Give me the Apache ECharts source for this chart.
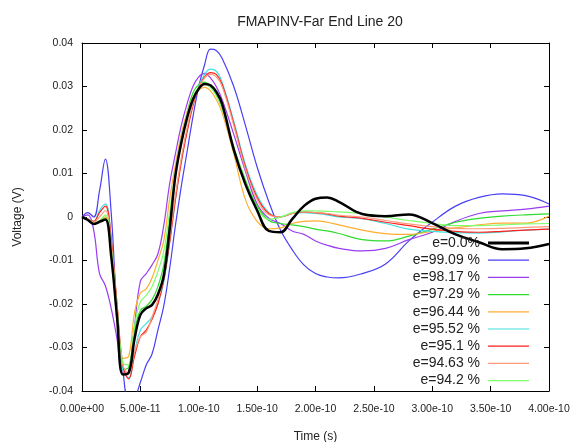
<!DOCTYPE html>
<html><head><meta charset="utf-8">
<script src="https://cdn.jsdelivr.net/npm/echarts@6/dist/echarts.min.js"></script>
<style>html,body{margin:0;padding:0;background:#fff}#c{width:574px;height:442px}</style>
</head><body><div id="c"></div>
<script>
// time in picoseconds
const timePs = [0,5,10,15,20,25,30,35,40,45,50,55,60,65,70,75,80,85,90,95,100,105,110,115,120,
  130,140,150,160,170,180,190,200,210,220,
  240,260,280,300,320,340,360,380,400];

const e00 = [0,-0.0007,-0.0016,-0.0011,-0.0006,-0.009,-0.023,-0.0362,-0.0358,-0.028,-0.0225,-0.021,-0.0202,-0.0178,-0.0135,-0.003,0.0095,0.017,0.0228,0.027,0.0295,0.0306,0.0303,0.0288,0.026,
  0.0155,0.0075,0.0015,-0.0032,-0.0035,-0.0005,0.0025,0.0042,0.0045,0.0035,
  0.0007,0.0002,0.0006,-0.0014,-0.004,-0.0058,-0.0074,-0.0072,-0.0062];
const e9909 = [0,0.001,0.0,0.006,0.0133,0.001,-0.022,-0.035,-0.042,-0.0415,-0.038,-0.034,-0.0315,-0.026,-0.0205,-0.012,-0.002,0.007,0.015,0.023,0.030,0.035,0.0386,0.0383,0.0365,
  0.030,0.021,0.0115,0.0035,-0.003,-0.0075,-0.011,-0.013,-0.0138,-0.014,
  -0.013,-0.0108,-0.0055,-0.0012,0.0025,0.0045,0.0053,0.0049,0.003];
const e9817 = [0,0.0005,-0.003,-0.013,-0.0158,-0.021,-0.028,-0.036,-0.0355,-0.025,-0.0148,-0.013,-0.011,-0.0085,-0.002,0.0075,0.0145,0.021,0.026,0.030,0.0322,0.033,0.032,0.030,0.027,
  0.019,0.0105,0.003,-0.0003,-0.0015,-0.0032,-0.004,-0.0055,-0.0065,-0.0072,
  -0.0078,-0.0072,-0.0052,-0.0035,-0.001,0.0008,0.0014,0.0018,0.0025];
const e9729 = [0,-0.0005,-0.0015,-0.001,0.0,-0.008,-0.022,-0.035,-0.0345,-0.026,-0.0215,-0.0205,-0.019,-0.016,-0.011,-0.001,0.010,0.018,0.024,0.0285,0.0305,0.031,0.030,0.028,0.025,
  0.016,0.0085,0.0025,-0.0008,-0.0015,-0.0018,-0.0022,-0.0028,-0.0032,-0.0038,
  -0.0052,-0.0055,-0.0044,-0.0028,-0.0012,-0.0003,0.0002,0.0005,0.0007];
const e9644 = [0,-0.0005,-0.0015,-0.001,0.0,-0.007,-0.020,-0.0325,-0.032,-0.022,-0.0175,-0.0165,-0.014,-0.010,-0.0055,0.004,0.012,0.019,0.024,0.0275,0.0292,0.0298,0.029,0.027,0.024,
  0.0145,0.004,-0.001,-0.0027,-0.0025,-0.0015,-0.001,-0.0009,-0.0012,-0.0018,
  -0.003,-0.0038,-0.004,-0.0033,-0.0025,-0.0018,-0.0014,-0.0014,0.0002];
const e9552 = [0,-0.0005,-0.001,0.0015,0.003,-0.005,-0.021,-0.035,-0.037,-0.031,-0.026,-0.0245,-0.023,-0.020,-0.015,-0.006,0.004,0.013,0.020,0.026,0.030,0.0328,0.034,0.0335,0.031,
  0.022,0.012,0.005,0.001,0.0,0.0008,0.001,0.0008,0.0005,0.0,
  -0.0004,-0.0015,-0.0028,-0.0033,-0.0036,-0.0037,-0.0034,-0.003,-0.0028];
const e951 = [0,-0.0005,-0.001,0.001,0.0025,-0.005,-0.020,-0.034,-0.0372,-0.032,-0.0275,-0.026,-0.0235,-0.020,-0.0145,-0.006,0.004,0.0125,0.0195,0.0255,0.0298,0.0322,0.0332,0.0328,0.0305,
  0.0215,0.0115,0.0045,0.0008,0.0,0.0008,0.0012,0.001,0.0007,0.0002,
  -0.0003,-0.0012,-0.002,-0.0028,-0.0033,-0.0035,-0.0033,-0.003,-0.0028];
const e9463 = [0,-0.0005,-0.0012,0.0,0.0015,-0.006,-0.021,-0.034,-0.036,-0.031,-0.0275,-0.0265,-0.023,-0.019,-0.014,-0.005,0.005,0.0135,0.0205,0.026,0.0298,0.032,0.0328,0.0322,0.030,
  0.021,0.011,0.004,0.0005,0.0,0.0008,0.0012,0.001,0.0008,0.0004,
  0.0,-0.0008,-0.0016,-0.0022,-0.0026,-0.0027,-0.0026,-0.0024,-0.0022];
const e942 = [0,-0.0005,-0.0015,-0.0008,0.0005,-0.007,-0.021,-0.0335,-0.034,-0.025,-0.0195,-0.018,-0.016,-0.0125,-0.008,0.001,0.0105,0.018,0.0235,0.0275,0.0298,0.0305,0.0298,0.028,0.025,
  0.016,0.008,0.002,-0.0005,0.0,0.001,0.0014,0.0014,0.0013,0.0012,
  0.0008,0.0,-0.0008,-0.0015,-0.002,-0.002,-0.0018,-0.0016,-0.0015];

const seriesNames = ['e=0.0%','e=99.09 %','e=98.17 %','e=97.29 %','e=96.44 %','e=95.52 %','e=95.1 %','e=94.63 %','e=94.2 %'];
const seriesValues = [e00,e9909,e9817,e9729,e9644,e9552,e951,e9463,e942];
const seriesColors = ['#000000','#4a3ff5','#9b3cf0','#2fdc2f','#ffae33','#40e0e0','#ff2020','#ff9b7a','#7cff6a'];
const seriesWidths = [2.5,1.2,1.2,1.2,1.2,1.2,1.2,1.2,1.2];

const FONT = 'Liberation Sans, Arial, sans-serif';
const fmtX = v => (v*1e-12).toExponential(2).replace(/e([+-])(\d)$/, (m,a,b)=>'e'+a+'0'+b);
const fmtY = v => String(+v.toFixed(2));

const series = seriesNames.map((n,i)=>({
  name:n, type:'line', symbol:'none', showSymbol:false, smooth:0.4,
  data: timePs.map((t,k)=>[t, seriesValues[i][k]]),
  lineStyle:{color:seriesColors[i], width:seriesWidths[i]},
  itemStyle:{color:seriesColors[i]},
  z: i===0 ? 3 : 2
}));
series.push(series.shift());

const axisCommon = {
  axisLine:{show:true, onZero:false, lineStyle:{color:'#000', width:1}},
  axisTick:{show:true, inside:true, length:5, lineStyle:{color:'#000'}},
  splitLine:{show:false}
};

const chart = echarts.init(document.getElementById('c'), null, {renderer:'canvas'});
chart.setOption({
  animation:false,
  backgroundColor:'#fff',
  textStyle:{fontFamily:FONT},
  title:{text:'FMAPINV-Far End Line 20', left:315, textAlign:'center', top:10,
    textStyle:{fontSize:14, fontWeight:'normal', color:'#222', fontFamily:FONT}},
  grid:{left:82, right:25, top:43, bottom:51, containLabel:false, outerBoundsMode:'none'},
  legend:{orient:'vertical', right:40, top:231, align:'right', itemWidth:41, itemHeight:14, itemGap:3.2,
    selectedMode:false,
    data: seriesNames.map((n,i)=>({name:n,
      icon: i===0 ? 'path://M0,0H40V3H0Z' : 'path://M0,0H40V1.2H0Z',
      itemStyle:{color:seriesColors[i]}})),
    textStyle:{fontSize:14, color:'#222', fontFamily:FONT, padding:[0,3,0,0]}},
  xAxis:[
    Object.assign({type:'value', position:'bottom', min:0, max:400, interval:50,
      axisLabel:{formatter:fmtX, fontSize:10.5, color:'#222', margin:13, fontFamily:FONT},
      name:'Time (s)', nameLocation:'middle', nameGap:40,
      nameTextStyle:{fontSize:12, color:'#222', fontFamily:FONT}}, axisCommon),
    Object.assign({type:'value', position:'top', min:0, max:400, interval:50,
      axisLabel:{show:false}}, axisCommon)
  ],
  yAxis:[
    Object.assign({type:'value', position:'left', min:-0.04, max:0.04, interval:0.01,
      axisLabel:{formatter:fmtY, fontSize:10.5, color:'#222', margin:9, fontFamily:FONT},
      name:'Voltage (V)', nameLocation:'middle', nameGap:58,
      nameTextStyle:{fontSize:12, color:'#222', fontFamily:FONT}}, axisCommon),
    Object.assign({type:'value', position:'right', min:-0.04, max:0.04, interval:0.01,
      axisLabel:{show:false}}, axisCommon)
  ],
  series: series
});
</script></body></html>
